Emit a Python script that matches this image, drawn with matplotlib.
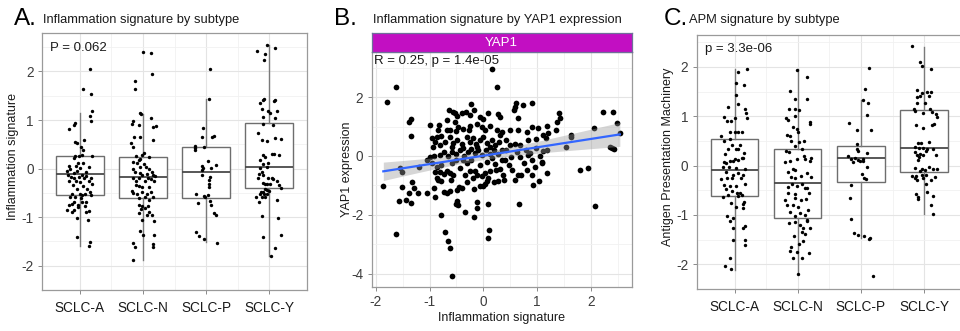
import numpy as np
import matplotlib
matplotlib.use("Agg")
import matplotlib.pyplot as plt

plt.rcParams['font.family'] = ['Liberation Sans', 'DejaVu Sans']

subtypes = ["SCLC-A", "SCLC-N", "SCLC-P", "SCLC-Y"]

# ---------------- Panel A: inflammation signature by subtype (jitter, value)
infl_A = [(0.16,2.05),(0.05,1.63),(0.17,1.53),(0.19,1.18),(0.16,1.09),(0.18,0.98),(-0.07,0.93),(-0.10,0.89),(-0.17,0.81),(-0.08,0.55),(-0.05,0.53),(0.07,0.58),(0.02,0.45),(0.05,0.38),(-0.08,0.25),(-0.02,0.26),(0.04,0.29),(0.20,0.26),(-0.09,0.22),(-0.18,0.06),(-0.06,0.06),(-0.03,0.12),(0.05,0.12),(0.00,0.01),(0.15,0.04),(-0.15,-0.01),(-0.20,-0.05),(-0.19,-0.13),(-0.09,-0.10),(-0.05,-0.04),(0.09,-0.07),(0.03,-0.13),(-0.14,-0.18),(-0.09,-0.20),(-0.02,-0.17),(0.09,-0.15),(0.07,-0.20),(0.17,-0.19),(-0.17,-0.26),(-0.06,-0.25),(0.01,-0.27),(0.15,-0.26),(0.19,-0.31),(-0.11,-0.34),(0.05,-0.36),(-0.05,-0.41),(0.12,-0.42),(-0.13,-0.52),(0.01,-0.52),(0.04,-0.55),(0.08,-0.52),(0.16,-0.48),(-0.15,-0.58),(-0.07,-0.58),(0.02,-0.61),(0.18,-0.55),(-0.09,-0.68),(0.09,-0.68),(-0.18,-0.74),(-0.12,-0.73),(-0.03,-0.74),(0.04,-0.69),(0.08,-0.77),(-0.20,-0.85),(-0.10,-0.85),(-0.03,-0.80),(0.10,-0.89),(0.15,-0.87),(-0.13,-0.90),(-0.05,-1.01),(0.13,-1.06),(-0.05,-1.41),(0.16,-1.51),(0.15,-1.59)]
infl_N = [(0.00,2.41),(0.13,2.37),(0.15,1.95),(-0.12,1.80),(-0.12,1.63),(-0.05,1.14),(-0.03,1.13),(0.12,1.04),(-0.15,0.97),(-0.17,0.92),(-0.06,0.90),(0.20,0.88),(0.16,0.86),(-0.14,0.66),(-0.04,0.66),(-0.19,0.52),(0.16,0.58),(-0.15,0.44),(0.01,0.32),(-0.01,0.28),(-0.11,0.26),(-0.04,0.20),(-0.06,0.17),(0.10,0.24),(-0.16,0.13),(-0.10,0.12),(0.01,0.10),(0.05,0.04),(-0.15,-0.01),(-0.04,0.04),(0.09,-0.01),(-0.12,-0.08),(-0.05,-0.10),(-0.01,-0.13),(0.06,-0.12),(0.14,-0.08),(0.16,-0.13),(-0.06,-0.19),(0.08,-0.19),(0.19,-0.15),(-0.15,-0.20),(-0.11,-0.26),(0.04,-0.26),(0.12,-0.22),(0.18,-0.26),(-0.06,-0.36),(-0.11,-0.34),(-0.01,-0.37),(0.09,-0.37),(-0.18,-0.47),(-0.16,-0.50),(-0.10,-0.53),(-0.02,-0.48),(0.12,-0.48),(0.07,-0.53),(0.04,-0.58),(-0.06,-0.61),(0.16,-0.58),(0.09,-0.64),(-0.06,-0.74),(-0.01,-0.77),(0.08,-0.77),(-0.03,-0.83),(0.04,-0.82),(0.10,-0.89),(-0.06,-0.92),(0.06,-0.96),(0.18,-1.07),(-0.02,-1.06),(0.14,-0.96),(-0.05,-1.29),(0.00,-1.36),(0.17,-1.37),(-0.16,-1.53),(-0.13,-1.61),(0.16,-1.55),(0.16,-1.62),(-0.16,-1.88)]
infl_P = [(0.07,2.05),(0.04,1.44),(-0.05,0.83),(-0.06,0.66),(0.10,0.65),(0.13,0.67),(-0.18,0.47),(-0.18,0.43),(-0.17,0.39),(-0.04,0.44),(0.03,0.15),(-0.06,0.06),(-0.05,0.02),(0.16,0.07),(-0.07,-0.02),(0.08,0.01),(-0.07,-0.13),(0.07,-0.17),(0.04,-0.24),(0.05,-0.31),(0.05,-0.38),(-0.16,-0.52),(0.03,-0.54),(-0.04,-0.57),(-0.01,-0.58),(-0.13,-0.71),(0.06,-0.66),(0.08,-0.75),(0.12,-0.91),(0.15,-0.96),(-0.16,-1.30),(-0.11,-1.38),(-0.04,-1.44),(0.18,-1.54)]
infl_Y = [(-0.03,2.55),(0.10,2.49),(-0.20,2.43),(-0.06,2.36),(-0.08,2.24),(-0.14,1.36),(-0.10,1.41),(-0.08,1.44),(0.07,1.39),(0.09,1.41),(-0.12,1.23),(-0.02,1.18),(0.01,1.15),(0.12,1.19),(-0.10,1.06),(0.09,1.04),(-0.10,0.91),(0.06,0.90),(-0.17,0.74),(0.09,0.64),(0.18,0.61),(-0.12,0.59),(-0.04,0.57),(-0.10,0.29),(0.05,0.31),(0.08,0.31),(0.16,0.28),(-0.14,0.18),(-0.06,0.24),(-0.09,0.10),(-0.02,0.11),(-0.15,0.01),(-0.11,-0.06),(-0.03,0.04),(-0.16,-0.12),(-0.10,-0.13),(-0.18,-0.20),(-0.02,-0.20),(0.04,-0.20),(0.06,-0.22),(0.12,-0.25),(-0.10,-0.29),(-0.06,-0.31),(-0.03,-0.31),(0.01,-0.31),(0.15,-0.33),(0.19,-0.39),(-0.07,-0.41),(-0.04,-0.44),(-0.13,-0.48),(-0.10,-0.48),(0.00,-0.47),(-0.15,-0.52),(-0.08,-0.52),(-0.03,-0.53),(-0.21,-0.58),(-0.12,-0.59),(-0.07,-0.58),(-0.16,-0.69),(0.12,-0.65),(-0.11,-0.97),(0.14,-1.01),(-0.10,-1.41),(0.19,-1.36),(0.09,-1.64),(0.03,-1.80)]
# box statistics: lower whisker, q1, median, q3, upper whisker
infl_box_lo  = [-1.59, -1.88, -1.52, -1.80]
infl_box_q1  = [-0.54, -0.61, -0.61, -0.40]
infl_box_med = [-0.12, -0.17, -0.08, 0.04]
infl_box_q3  = [0.25, 0.24, 0.44, 0.93]
infl_box_hi  = [1.15, 1.13, 1.44, 2.55]

# ---------------- Panel C: APM signature by subtype (jitter, value)
apm_A = [(0.05,1.90),(0.20,1.96),(0.02,1.67),(0.15,1.64),(0.02,1.43),(0.06,1.25),(-0.10,1.19),(0.17,1.15),(0.18,1.06),(-0.16,0.99),(-0.12,0.91),(-0.05,0.91),(0.00,0.96),(0.19,0.97),(-0.21,0.60),(-0.08,0.68),(0.00,0.69),(0.05,0.68),(0.12,0.69),(-0.17,0.49),(-0.08,0.53),(-0.04,0.41),(0.08,0.42),(-0.11,0.34),(0.03,0.33),(0.06,0.34),(0.15,0.26),(-0.15,0.24),(0.01,0.14),(0.12,0.16),(-0.17,0.07),(-0.13,0.06),(-0.08,0.09),(-0.03,0.10),(0.06,0.11),(0.14,0.16),(-0.18,-0.03),(-0.09,-0.03),(0.03,-0.05),(0.17,-0.06),(-0.14,-0.13),(-0.02,-0.19),(0.06,-0.15),(0.13,-0.18),(-0.21,-0.27),(-0.12,-0.25),(-0.04,-0.26),(0.10,-0.26),(-0.17,-0.40),(-0.08,-0.41),(0.02,-0.42),(0.16,-0.38),(-0.14,-0.48),(-0.04,-0.52),(0.04,-0.55),(0.09,-0.56),(0.12,-0.60),(0.05,-0.62),(-0.10,-0.60),(-0.18,-0.63),(0.15,-0.74),(0.13,-0.78),(-0.05,-0.76),(0.03,-0.83),(0.14,-0.86),(-0.12,-1.03),(-0.02,-1.07),(-0.07,-1.13),(0.16,-1.23),(-0.03,-1.27),(0.14,-1.27),(-0.03,-1.50),(0.17,-1.51),(0.16,-1.60),(-0.08,-1.87),(-0.15,-2.04),(-0.06,-2.10)]
apm_N = [(-0.01,1.94),(0.14,1.79),(-0.13,1.51),(-0.04,1.35),(0.14,1.36),(-0.14,1.15),(-0.05,1.15),(0.02,1.13),(-0.18,0.97),(-0.15,0.93),(-0.04,1.00),(0.19,0.89),(0.19,0.85),(-0.07,0.78),(-0.01,0.74),(-0.17,0.62),(-0.12,0.61),(0.01,0.68),(-0.11,0.49),(0.02,0.48),(0.10,0.49),(-0.05,0.40),(0.07,0.33),(-0.19,0.30),(-0.14,0.28),(0.10,0.20),(0.21,0.16),(-0.20,0.07),(-0.13,0.09),(-0.02,0.13),(0.12,0.14),(0.19,0.09),(-0.08,-0.06),(-0.04,-0.09),(-0.16,-0.13),(0.14,-0.15),(-0.11,-0.23),(-0.05,-0.26),(0.05,-0.21),(0.21,-0.23),(-0.15,-0.44),(-0.09,-0.38),(-0.01,-0.41),(0.06,-0.38),(0.11,-0.46),(0.15,-0.45),(-0.15,-0.56),(-0.04,-0.58),(0.18,-0.56),(-0.20,-0.70),(-0.04,-0.66),(0.05,-0.70),(0.13,-0.68),(-0.07,-0.80),(-0.17,-0.80),(0.01,-0.83),(0.16,-0.90),(-0.12,-0.93),(0.04,-0.96),(-0.04,-1.03),(0.12,-1.01),(0.14,-1.10),(-0.14,-1.17),(-0.05,-1.15),(0.15,-1.12),(0.04,-1.20),(0.08,-1.27),(0.19,-1.27),(0.06,-1.35),(0.12,-1.39),(-0.06,-1.43),(0.08,-1.53),(-0.11,-1.64),(0.02,-1.59),(-0.13,-1.74),(-0.02,-1.75),(0.17,-1.77),(-0.08,-1.87),(0.07,-1.88),(0.00,-2.20)]
apm_P = [(0.13,1.97),(0.07,1.55),(0.04,1.33),(0.11,1.26),(0.09,1.03),(-0.19,0.87),(-0.06,0.73),(0.16,0.72),(-0.07,0.44),(-0.06,0.34),(-0.04,0.30),(-0.20,0.20),(-0.15,0.14),(-0.10,0.16),(-0.05,0.12),(0.03,0.14),(0.09,0.26),(-0.13,0.07),(-0.02,0.10),(0.04,0.10),(0.10,-0.03),(0.02,-0.17),(0.05,-0.25),(0.08,-0.27),(-0.16,-0.40),(-0.18,-0.66),(-0.16,-1.09),(-0.11,-1.37),(-0.05,-1.40),(0.05,-1.42),(0.13,-1.48),(0.15,-1.47),(0.19,-2.24)]
apm_Y = [(-0.19,2.42),(-0.07,2.10),(-0.03,2.02),(0.11,1.95),(-0.11,1.54),(-0.04,1.48),(0.05,1.50),(0.11,1.50),(-0.12,1.39),(-0.06,1.41),(0.08,1.41),(0.01,1.27),(-0.11,1.27),(-0.16,1.15),(-0.14,1.11),(-0.01,1.07),(0.10,1.15),(0.13,1.09),(0.19,1.05),(0.20,0.99),(-0.13,0.83),(-0.02,0.76),(0.15,0.85),(0.12,0.83),(-0.10,0.46),(-0.05,0.46),(0.08,0.48),(-0.14,0.38),(-0.08,0.36),(-0.01,0.35),(0.04,0.34),(-0.14,0.28),(-0.06,0.24),(0.03,0.29),(0.14,0.33),(-0.11,0.21),(-0.08,0.18),(-0.02,0.22),(0.19,0.22),(-0.10,0.11),(-0.15,-0.05),(-0.04,-0.06),(0.08,-0.02),(0.14,-0.07),(0.01,-0.09),(-0.06,-0.11),(0.20,-0.07),(-0.19,-0.21),(-0.13,-0.21),(-0.04,-0.19),(0.03,-0.18),(-0.15,-0.26),(-0.12,-0.30),(-0.02,-0.26),(0.17,-0.23),(0.11,-0.29),(0.03,-0.38),(-0.13,-0.58),(-0.10,-0.63),(-0.09,-0.68),(0.05,-0.54),(0.14,-0.62),(0.11,-0.80),(0.14,-0.99)]
apm_box_lo  = [-2.11, -2.20, -1.47, -0.98]
apm_box_q1  = [-0.62, -1.07, -0.34, -0.13]
apm_box_med = [-0.08, -0.36, 0.16, 0.36]
apm_box_q3  = [0.53, 0.33, 0.40, 1.13]
apm_box_hi  = [1.95, 1.95, 1.33, 2.41]

# ---------------- Panel B: inflammation signature vs YAP1 expression (x, y)
yap1_pts = [(-1.79,1.82),(-1.63,2.33),(0.17,2.95),(0.25,2.35),(-1.34,1.25),(-1.38,1.14),(-1.00,1.04),(-1.34,0.67),(-0.63,1.56),(-0.57,1.51),(-0.53,1.45),(-0.48,1.37),(-0.40,1.45),(-0.32,1.48),(-0.22,1.75),(-0.17,1.56),(-0.25,1.39),(-0.07,1.34),(0.00,1.25),(0.09,1.45),(0.28,1.42),(-0.67,1.22),(-0.53,1.17),(-0.47,1.00),(-0.68,0.88),(-0.62,0.88),(-0.50,0.85),(-0.37,0.92),(-0.25,1.02),(-0.27,0.88),(-0.12,1.09),(-0.03,0.97),(0.03,0.88),(0.12,1.02),(0.25,0.88),(0.31,0.71),(-0.96,0.60),(-0.87,0.63),(-0.90,0.49),(-0.78,0.68),(-0.94,0.32),(-0.81,0.37),(-0.71,0.49),(-0.62,0.63),(-0.56,0.45),(-0.48,0.54),(-0.40,0.40),(-0.31,0.63),(-0.25,0.49),(-0.19,0.60),(-0.14,0.40),(-0.07,0.54),(-0.01,0.63),(0.06,0.43),(0.16,0.54),(0.22,0.37),(0.30,0.49),(-1.05,-0.14),(-0.99,-0.05),(-0.91,0.00),(-0.81,0.03),(-0.74,0.15),(-0.65,0.00),(-0.59,0.15),(-0.51,0.07),(-0.43,0.20),(-0.36,0.00),(-0.28,0.15),(-0.22,0.23),(-0.16,0.09),(-0.09,0.20),(-0.03,0.03),(0.05,0.20),(0.12,0.07),(0.20,0.20),(0.28,0.07),(0.34,0.20),
            (0.61,1.79),(0.59,1.68),(0.57,1.56),(0.74,1.73),(0.90,1.79),(0.65,1.28),(1.40,1.45),(1.43,1.28),(1.38,1.17),(1.35,0.88),(2.23,1.51),(2.42,1.51),(2.48,1.11),(2.54,0.79),(2.06,0.94),(1.63,0.71),(1.63,0.63),(1.53,0.29),(2.36,0.32),(2.40,0.26),(2.44,0.23),(1.19,1.02),(1.21,0.77),(1.17,0.60),(1.12,0.71),(0.98,0.57),(0.91,0.97),(0.65,0.88),(0.50,0.88),(0.34,0.83),(0.31,1.34),(0.59,0.40),(0.68,0.37),(0.84,0.54),(1.12,0.18),(1.18,0.20),(0.79,0.20),(0.87,0.09),(0.98,0.26),(0.43,0.20),(0.40,-0.14),(0.47,-0.31),(0.84,0.03),(0.90,-0.14),(1.05,0.00),(1.10,-0.19),(0.96,-0.36),(0.81,-0.48),(0.71,-0.65),(1.09,-0.25),(1.80,-0.46),(1.94,-0.41),
            (0.67,-1.63),(2.08,-1.69),(0.38,-0.83),(0.59,-0.83),(0.65,-0.63),(0.53,-0.46),(0.91,-0.63),(0.93,-0.97),(1.04,-0.84),(1.18,-0.58),
            (-1.86,-1.03),(-1.63,-2.65),(-1.57,-1.52),(-1.52,-1.05),(-1.38,-1.26),(-1.43,-1.48),(-1.35,-1.60),(-1.33,-0.88),(-1.28,-1.09),(-1.05,-1.26),(-0.90,-1.40),(-0.78,-2.02),(-0.71,-2.59),(-0.66,-2.90),(-0.62,-3.12),(-0.59,-4.09),(-0.74,-1.23),(-0.67,-1.26),(-0.62,-1.20),(-0.51,-1.63),(-0.48,-1.54),(-0.47,-1.68),(-0.34,-1.91),(-0.17,-2.07),(-0.11,-1.56),(-0.11,-1.77),(0.08,-1.62),(0.11,-2.50),(0.09,-2.80),(-1.51,-0.54),(-0.90,-0.54),(-0.84,-0.80),(-0.78,-0.84),(-0.74,-0.61),(-0.62,-0.58),(-0.56,-0.63),(-0.48,-1.14),(-0.45,-1.06),(-0.40,-1.09),(-0.31,-0.88),(-0.25,-0.50),(-0.16,-0.50),(-0.17,-1.11),(-0.06,-1.03),(0.00,-1.03),(0.03,-0.95),(0.06,-0.86),(0.09,-0.75),(0.19,-0.88),(0.27,-0.84),(-0.12,-0.63),(-0.03,-0.69),(0.03,-0.58),(0.12,-0.52),(0.24,-0.46),(0.31,-0.43),(-0.81,-0.54),(-0.68,-0.50),(-0.34,-0.66),
            (-0.96,-0.25),(-0.78,-0.31),(-0.59,-0.25),(-0.50,-0.14),(-0.31,-0.25),(-0.22,-0.14),(-0.06,-0.31),(0.06,-0.19),(0.22,-0.27),(0.34,-0.14),(-0.43,-0.42),(-0.87,-0.36),(-1.20,-0.36),(-1.55,-0.42),(-0.86,-0.74),(-0.61,-0.82),(-0.19,-0.76),(0.37,-0.65),(0.51,-0.02),(0.68,-0.02),(0.62,0.15),(0.76,-0.25),(-0.91,-1.10),(-1.21,-1.27),(-0.82,1.05),(0.43,0.54),(0.50,0.37),(0.81,0.83),(1.02,0.94),(-0.84,0.88),(-0.37,-0.14),(0.16,-0.08),(-0.12,0.32),(0.12,0.32),(-0.37,0.26),(-0.59,0.32)]

# ---------------- styling
GRID_MAJ = '#e4e4e4'
GRID_MIN = '#f1f1f1'
BORDER = '#9a9a9a'
TXT = '#1a1a1a'
TICKC = '#3d3d3d'

W, H = 960, 331
fig = plt.figure(figsize=(W/100, H/100), dpi=100)

def px_axes(l, t, r, b):
    return fig.add_axes([l/W, 1 - b/H, (r-l)/W, (b-t)/H])

def style(ax):
    ax.set_facecolor('white')
    for s in ax.spines.values():
        s.set_color(BORDER)
        s.set_linewidth(0.9)
    ax.tick_params(axis='both', which='major', length=3, width=0.7, color='#8a8a8a',
                   labelsize=9.8, labelcolor=TICKC, pad=3)
    ax.tick_params(axis='both', which='minor', length=0)
    ax.grid(True, which='major', color=GRID_MAJ, lw=0.8, zorder=0)
    ax.grid(True, which='minor', color=GRID_MIN, lw=0.6, zorder=0)
    ax.set_axisbelow(True)

def box_panel(ax, groups, lo, q1, med, q3, hi, ylim, yticks, ylabel, note, ylab_x, ylab_y):
    style(ax)
    stats = []
    for i in range(len(subtypes)):
        stats.append(dict(whislo=lo[i], q1=q1[i], med=med[i], q3=q3[i], whishi=hi[i], label=subtypes[i]))
    ax.bxp(stats, positions=np.arange(1, 5), widths=0.75, showfliers=False, showcaps=False,
           patch_artist=True,
           boxprops=dict(facecolor='white', edgecolor='#6e6e6e', linewidth=1.0),
           medianprops=dict(color='#4a4a4a', linewidth=1.3),
           whiskerprops=dict(color='#7a7a7a', linewidth=1.0),
           zorder=2)
    for i, g in enumerate(groups):
        jit, val = zip(*g)
        ax.scatter(np.array(jit) + i + 1, val, s=6, color='black', lw=0, zorder=3)
    ax.set_xlim(0.4, 4.6)
    ax.set_ylim(*ylim)
    ax.set_xticks(np.arange(1, 5))
    ax.set_xticklabels(subtypes)
    ax.set_xticks(np.arange(1.5, 4.5, 1.0), minor=True)
    ax.set_yticks(yticks)
    ax.set_yticks(np.arange(yticks[0] - 0.5, yticks[-1] + 1.0, 1.0), minor=True)
    ax.set_yticklabels([str(t) for t in yticks])
    ax.set_ylabel(ylabel, fontsize=9.0, color=TXT)
    ax.yaxis.set_label_coords(ylab_x, ylab_y)
    ax.text(0.03, note[1], note[0], transform=ax.transAxes, fontsize=9.5, color=TXT,
            ha='left', va='center')
    ax.tick_params(axis='x', which='major', pad=5, labelcolor=TXT)

# Panel A
axA = px_axes(42, 33, 307, 290)
box_panel(axA, [infl_A, infl_N, infl_P, infl_Y], infl_box_lo, infl_box_q1, infl_box_med,
          infl_box_q3, infl_box_hi, (-2.113, 2.792), [-2, -1, 0, 1, 2],
          'Inflammation signature', ('P = 0.062', 0.942), -0.088, 0.52)

# Panel C
axC = px_axes(696.7, 35, 962, 289)
box_panel(axC, [apm_A, apm_N, apm_P, apm_Y], apm_box_lo, apm_box_q1, apm_box_med,
          apm_box_q3, apm_box_hi, (-2.458, 2.647), [-2, -1, 0, 1, 2],
          'Antigen Presentation Machinery', ('p = 3.3e-06', 0.945), -0.087, 0.52)
axC.spines['right'].set_visible(False)

# Panel B
axB = px_axes(371.7, 52, 631.7, 287)
style(axB)
bx, by = (np.array(v) for v in zip(*yap1_pts))
axB.scatter(bx, by, s=17, color='black', lw=0, zorder=3)
# linear fit with 95% confidence band
n = len(bx)
slope, icpt = np.polyfit(bx, by, 1)
xs = np.linspace(bx.min(), bx.max(), 100)
fit = icpt + slope * xs
resid = by - (icpt + slope * bx)
s_err = np.sqrt(np.sum(resid**2) / (n - 2))
sxx = np.sum((bx - bx.mean())**2)
se = s_err * np.sqrt(1.0/n + (xs - bx.mean())**2 / sxx)
axB.fill_between(xs, fit - 1.97*se, fit + 1.97*se, color='#999999', alpha=0.4, lw=0, zorder=4)
axB.plot(xs, fit, color='#3366FF', lw=1.6, zorder=5)
axB.set_xlim(-2.076, 2.761)
axB.set_ylim(-4.448, 3.531)
axB.set_xticks([-2, -1, 0, 1, 2])
axB.set_xticks([-1.5, -0.5, 0.5, 1.5, 2.5], minor=True)
axB.set_yticks([-4, -2, 0, 2])
axB.set_yticks([-3, -1, 1, 3], minor=True)
axB.set_xticklabels(['-2', '-1', '0', '1', '2'])
axB.set_yticklabels(['-4', '-2', '0', '2'])
axB.set_xlabel('Inflammation signature', fontsize=9.0, color=TXT)
axB.xaxis.set_label_coords(0.5, -0.105)
axB.set_ylabel('YAP1 expression', fontsize=9.0, color=TXT)
axB.yaxis.set_label_coords(-0.072, 0.5)
axB.text(0.01, 0.962, 'R = 0.25, p = 1.4e-05', transform=axB.transAxes, fontsize=9.5,
         color=TXT, ha='left', va='center')

# strip
axS = px_axes(371.7, 33, 631.7, 52)
axS.set_facecolor('#C20FC2')
axS.set_xticks([]); axS.set_yticks([])
for s in axS.spines.values():
    s.set_color('#6f6f9a'); s.set_linewidth(0.9)
axS.text(0.5, 0.5, 'YAP1', transform=axS.transAxes, ha='center', va='center',
         color='white', fontsize=9.5)

# titles
def title(xl, xt, letter, text):
    fig.text(xl/W, 1 - 25/H, letter, fontsize=17.5, color='black', ha='left', va='baseline')
    fig.text(xt/W, 1 - 23/H, text, fontsize=9.3, color=TXT, ha='left', va='baseline')

title(14, 43, 'A.', 'Inflammation signature by subtype')
title(334, 373, 'B.', 'Inflammation signature by YAP1 expression')
title(664, 689, 'C.', 'APM signature by subtype')

fig.savefig('out.png', dpi=100, facecolor='white')
